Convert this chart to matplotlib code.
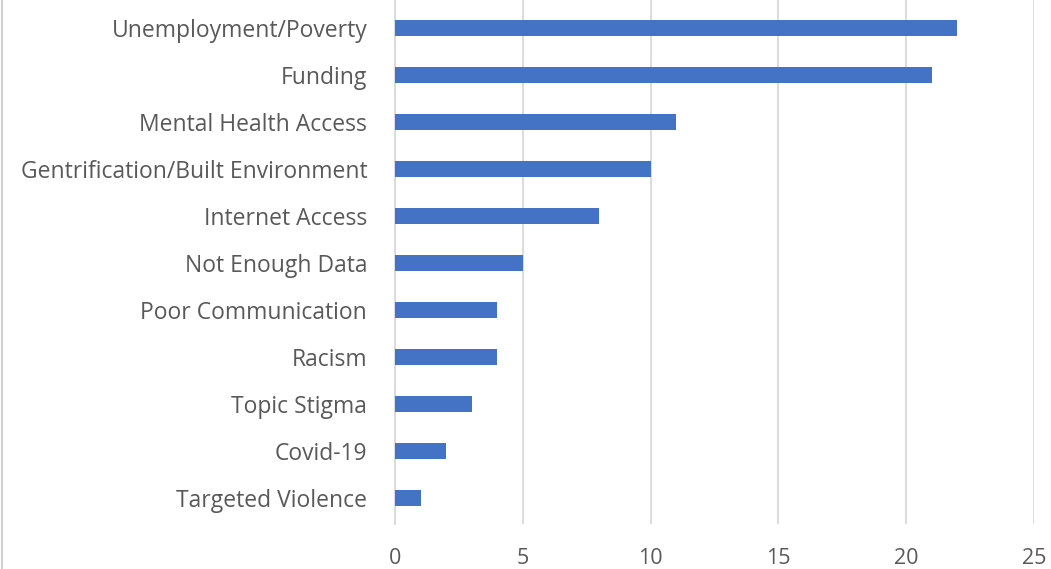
import matplotlib.pyplot as plt
from matplotlib.lines import Line2D

categories = ['Unemployment/Poverty', 'Funding', 'Mental Health Access',
              'Gentrification/Built Environment', 'Internet Access',
              'Not Enough Data', 'Poor Communication', 'Racism',
              'Topic Stigma', 'Covid-19', 'Targeted Violence']
counts = [22, 21, 11, 10, 8, 5, 4, 4, 3, 2, 1]
x_ticks = [0, 5, 10, 15, 20, 25]

plt.rcParams['font.family'] = ['Open Sans', 'DejaVu Sans']

fig = plt.figure(figsize=(10.51, 5.69), dpi=100)
ax = fig.add_axes([0.3758, 0.079, 0.608, 0.921])

pos = list(range(len(categories)))
ax.barh(pos, counts, height=0.34, color='#4472C4', zorder=3)

ax.set_xlim(0, 25)
ax.set_ylim(10.56, -0.6)
ax.set_xticks(x_ticks)
ax.set_yticks(pos)
ax.set_yticklabels(categories)

ax.grid(axis='x', color='#d9d9d9', linewidth=1.3, zorder=0)
for s in ['top', 'right', 'bottom']:
    ax.spines[s].set_visible(False)
ax.spines['left'].set_color('#d9d9d9')
ax.spines['left'].set_linewidth(1.3)
ax.tick_params(axis='both', length=0, labelcolor='#595959')
ax.tick_params(axis='y', pad=20, labelsize=16.5)
ax.tick_params(axis='x', pad=17, labelsize=15.5)

# thin frame line on the far left of the figure
fig.add_artist(Line2D([0.0015, 0.0015], [0, 1], transform=fig.transFigure,
                      color='#d0d0d0', linewidth=1.5))

fig.savefig('out.png', dpi=100)
